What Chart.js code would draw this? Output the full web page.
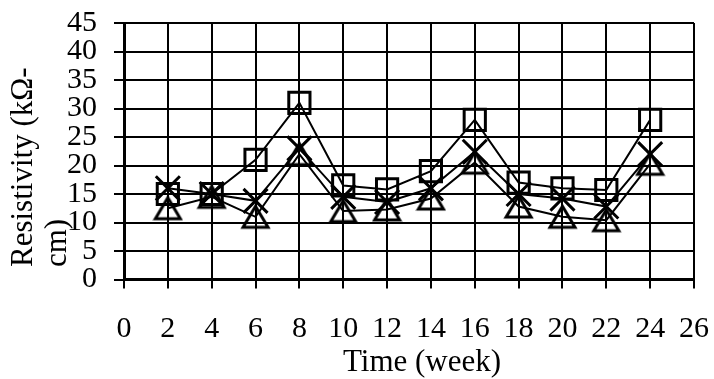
<!DOCTYPE html>
<html>
<head>
<meta charset="utf-8">
<script src="https://cdn.jsdelivr.net/npm/chart.js@4.4.0/dist/chart.umd.min.js"></script>
<style>
    html, body { margin: 0; padding: 0; background: #fff; }
    #wrap { width: 714px; height: 379px; }
</style>
</head>
<body>
<div id="wrap"><canvas id="myChart"></canvas></div>
<script>
// values
const weeks = [2, 4, 6, 8, 10, 12, 14, 16, 18, 20, 22, 24];
const squareSeries = [15, 15, 21, 31, 16.5, 15.8, 19, 28, 17, 16, 15.7, 28];
const crossSeries = [16, 15, 13.8, 23, 14.5, 13.6, 16, 22.4, 15, 14.2, 12.8, 22];
const triangleSeries = [12.5, 14.5, 11, 22, 12, 12.3, 14.2, 20.5, 12.8, 11, 10.4, 20.3];

const xTitle = 'Time (week)';
const yTitleLines = ['Resistivity (kΩ-', 'cm)'];

const serif = '"Liberation Serif", "Times New Roman", serif';

// Excel-like triangle, centred on its bounding box
function triangleMarker(w, h, lw) {
    let c = document.createElement('canvas');
    c.width = w + lw * 2;
    c.height = h + lw * 2;
    let g = c.getContext('2d');
    g.lineWidth = lw;
    g.strokeStyle = '#000';
    g.beginPath();
    g.moveTo(c.width / 2, lw);
    g.lineTo(c.width - lw, c.height - lw);
    g.lineTo(lw, c.height - lw);
    g.closePath();
    g.stroke();
    return c;
}

function toPoints(ys) {
    return weeks.map((w, i) => ({ x: w, y: ys[i] }));
}

// keep label overflow from shrinking the plot area
function noPadding(scale) {
    scale.paddingTop = 0;
    scale.paddingBottom = 0;
    scale.paddingLeft = 0;
    scale.paddingRight = 0;
}

// axis titles drawn by hand: the y one wraps and is left aligned
const axisTitles = {
    id: 'axisTitles',
    afterDraw(chart) {
        let ctx = chart.ctx;
        ctx.save();
        ctx.fillStyle = '#000';
        ctx.font = '31px ' + serif;
        ctx.textBaseline = 'alphabetic';
        ctx.textAlign = 'center';
        ctx.fillText(xTitle, 422, 371);
        ctx.textAlign = 'left';
        yTitleLines.forEach((line, i) => {
            ctx.save();
            ctx.translate(32 + i * 34, 267);
            ctx.rotate(-Math.PI / 2);
            ctx.fillText(line, 0, 0);
            ctx.restore();
        });
        ctx.restore();
    }
};

window.onload = function() {
    let ctx = document.getElementById('myChart');
    Chart.defaults.font.family = serif;
    Chart.defaults.color = '#000';

    let common = {
        borderColor: '#000',
        backgroundColor: 'rgba(0,0,0,0)',
        borderWidth: 2,
        pointBorderColor: '#000',
        pointBackgroundColor: 'rgba(0,0,0,0)',
        pointBorderWidth: 3,
        tension: 0,
        fill: false
    };

    let data = {
        datasets: [
            Object.assign({}, common, {
                label: 'square',
                data: toPoints(squareSeries),
                pointStyle: 'rect',
                pointRadius: 15
            }),
            Object.assign({}, common, {
                label: 'cross',
                data: toPoints(crossSeries),
                pointStyle: 'crossRot',
                pointRadius: 17
            }),
            Object.assign({}, common, {
                label: 'triangle',
                data: toPoints(triangleSeries),
                pointStyle: triangleMarker(25, 21, 3),
                pointRadius: 14
            })
        ]
    };

    let myChart = new Chart(ctx, {
        type: 'line',
        data: data,
        plugins: [axisTitles],
        options: {
            responsive: true,
            maintainAspectRatio: false,
            animation: false,
            layout: { padding: { top: 23, right: 19, bottom: 0, left: 0 } },
            plugins: {
                legend: { display: false },
                tooltip: { enabled: false }
            },
            scales: {
                x: {
                    type: 'linear',
                    min: 0,
                    max: 26,
                    ticks: { stepSize: 2, autoSkip: false, maxRotation: 0, font: { size: 30 }, padding: 23, color: '#000' },
                    grid: { color: '#000', lineWidth: 2, tickLength: 9 },
                    border: { color: '#000', width: 3 },
                    afterFit: function(scale) { scale.height = 99.5; noPadding(scale); }
                },
                y: {
                    min: 0,
                    max: 45,
                    ticks: { stepSize: 5, autoSkip: false, font: { size: 30, lineHeight: 1 }, padding: 17, color: '#000' },
                    grid: { color: '#000', lineWidth: 2, tickLength: 10 },
                    border: { color: '#000', width: 3 },
                    afterFit: function(scale) { scale.width = 124; noPadding(scale); }
                }
            }
        }
    });
};
</script>
</body>
</html>
